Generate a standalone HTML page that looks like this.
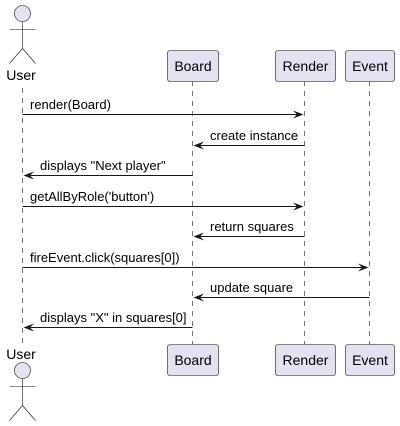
<!DOCTYPE html>
<html><head><style>html,body{margin:0;padding:0;background:#fff}svg{display:block}</style></head>
<body>
<svg width="400" height="426" viewBox="0 0 400 426" xmlns="http://www.w3.org/2000/svg" font-family="Liberation Sans, sans-serif">
<g stroke="#181818" stroke-width="0.6" stroke-dasharray="5,5" fill="none">
<line x1="22.5" y1="88" x2="22.5" y2="345"/>
<line x1="192.5" y1="81" x2="192.5" y2="345"/>
<line x1="304.5" y1="81" x2="304.5" y2="345"/>
<line x1="369.5" y1="81" x2="369.5" y2="345"/>
</g>
<!-- actors -->
<g stroke="#181818" stroke-width="0.6" fill="#E2E2F0">
<circle cx="22.5" cy="13.5" r="8"/>
<line x1="22.5" y1="21.5" x2="22.5" y2="48.5"/>
<line x1="9.5" y1="29.5" x2="35.5" y2="29.5"/>
<line x1="22.5" y1="48.5" x2="9.5" y2="63.5"/>
<line x1="22.5" y1="48.5" x2="35.5" y2="63.5"/>
<circle cx="22.5" cy="370.5" r="8"/>
<line x1="22.5" y1="378.5" x2="22.5" y2="405.5"/>
<line x1="9.5" y1="386.5" x2="35.5" y2="386.5"/>
<line x1="22.5" y1="405.5" x2="9.5" y2="420.5"/>
<line x1="22.5" y1="405.5" x2="35.5" y2="420.5"/>
</g>
<g font-size="14" fill="#000" text-anchor="middle">
<text x="21" y="80">User</text>
<text x="21" y="359">User</text>
</g>
<!-- boxes -->
<g stroke="#181818" stroke-width="0.6" fill="#E2E2F0">
<rect x="167.5" y="50.5" width="51" height="31" rx="2.5"/>
<rect x="275.5" y="50.5" width="60" height="31" rx="2.5"/>
<rect x="345.5" y="50.5" width="49" height="31" rx="2.5"/>
<rect x="167.5" y="344.5" width="51" height="31" rx="2.5"/>
<rect x="275.5" y="344.5" width="60" height="31" rx="2.5"/>
<rect x="345.5" y="344.5" width="49" height="31" rx="2.5"/>
</g>
<g font-size="14" fill="#000" text-anchor="middle">
<text x="193" y="71">Board</text>
<text x="305.5" y="71">Render</text>
<text x="370" y="71">Event</text>
<text x="193" y="365">Board</text>
<text x="305.5" y="365">Render</text>
<text x="370" y="365">Event</text>
</g>
<!-- messages -->
<g stroke="#181818" stroke-width="1">
<line x1="22.5" y1="114.5" x2="302" y2="114.5"/>
<line x1="195" y1="145.5" x2="304.5" y2="145.5"/>
<line x1="25" y1="175.5" x2="192.5" y2="175.5"/>
<line x1="22.5" y1="206.5" x2="302" y2="206.5"/>
<line x1="195" y1="236.5" x2="304.5" y2="236.5"/>
<line x1="22.5" y1="267.5" x2="367" y2="267.5"/>
<line x1="195" y1="297.5" x2="369.5" y2="297.5"/>
<line x1="25" y1="327.5" x2="192.5" y2="327.5"/>
</g>
<g fill="#181818">
<polygon points="293,110.5 303.5,114.5 293,118.5 297,114.5"/>
<polygon points="204,141.5 193.5,145.5 204,149.5 200,145.5"/>
<polygon points="34,171.5 23.5,175.5 34,179.5 30,175.5"/>
<polygon points="293,202.5 303.5,206.5 293,210.5 297,206.5"/>
<polygon points="204,232.5 193.5,236.5 204,240.5 200,236.5"/>
<polygon points="358,263.5 368.5,267.5 358,271.5 362,267.5"/>
<polygon points="204,293.5 193.5,297.5 204,301.5 200,297.5"/>
<polygon points="34,323.5 23.5,327.5 34,331.5 30,327.5"/>
</g>
<g font-size="13" fill="#000">
<text x="30" y="109">render(Board)</text>
<text x="210" y="140">create instance</text>
<text x="40" y="170">displays "Next player"</text>
<text x="30" y="201">getAllByRole('button')</text>
<text x="210" y="231">return squares</text>
<text x="30" y="262">fireEvent.click(squares[0])</text>
<text x="210" y="292">update square</text>
<text x="40" y="322">displays "X" in squares[0]</text>
</g>
</svg>
</body></html>
